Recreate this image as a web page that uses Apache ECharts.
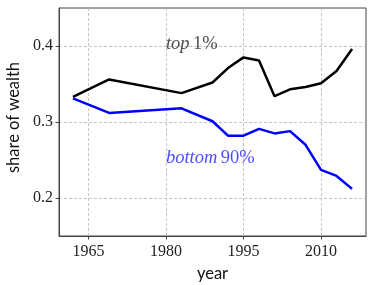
<!DOCTYPE html>
<html>
<head>
<meta charset="utf-8">
<script src="https://cdn.jsdelivr.net/npm/echarts@6/dist/echarts.min.js"></script>
<style>html,body{margin:0;padding:0;background:#fff}#c{width:374px;height:285px}</style>
</head>
<body>
<div id="c"></div>
<script>
const years = [1962, 1969, 1983, 1989, 1992, 1995, 1998, 2001, 2004, 2007, 2010, 2013, 2016];
const top1 = [0.333, 0.356, 0.338, 0.352, 0.371, 0.385, 0.381, 0.334, 0.343, 0.346, 0.351, 0.367, 0.396];
const bottom90 = [0.331, 0.312, 0.318, 0.301, 0.282, 0.282, 0.291, 0.285, 0.288, 0.270, 0.237, 0.229, 0.212];
const xTicks = [1965, 1980, 1995, 2010];
const yTicks = [0.2, 0.3, 0.4];
const labelTop = { x: 1980, y: 0.4, italic: 'top', roman: '1%' };
const labelBottom = { x: 1980, y: 0.25, italic: 'bottom', roman: '90%' };

const chart = echarts.init(document.getElementById('c'), null, { renderer: 'canvas' });
const serif = '"Liberation Serif", "DejaVu Serif", serif';
const frame = '#444';
const gridLine = { show: true, lineStyle: { color: '#b8b8b8', type: [3, 2], width: 0.8 } };

function annot(lbl, color) {
  return {
    type: 'scatter',
    symbolSize: 0,
    silent: true,
    data: [[lbl.x, lbl.y]],
    label: {
      show: true,
      position: 'right',
      distance: 0,
      offset: [0, -2],
      formatter: '{i|' + lbl.italic + '} {r|' + lbl.roman + '}',
      rich: {
        i: { fontFamily: serif, fontStyle: 'italic', fontSize: 18.5, color: color },
        r: { fontFamily: serif, fontSize: 18.5, color: color }
      }
    },
    z: 5
  };
}

chart.setOption({
  animation: false,
  grid: { left: 59, right: 8, top: 8, bottom: 49, show: true, borderColor: frame, borderWidth: 1,
    containLabel: false, outerBoundsMode: 'none' },
  xAxis: {
    type: 'value',
    min: 1959.3,
    max: 2018.7,
    name: 'year',
    nameLocation: 'middle',
    nameGap: 22,
    nameTextStyle: { fontFamily: 'Lato', fontSize: 16.5, color: '#111' },
    axisLine: { show: true, lineStyle: { color: frame, width: 1 } },
    axisTick: { show: true, length: 3.5, customValues: xTicks, lineStyle: { color: frame } },
    axisLabel: { customValues: xTicks, fontFamily: serif, fontSize: 16, color: '#222', margin: 8,
      formatter: v => String(v) },
    splitLine: gridLine
  },
  yAxis: {
    type: 'value',
    min: 0.15,
    max: 0.45,
    name: 'share of wealth',
    nameLocation: 'middle',
    nameGap: 28,
    nameTextStyle: { fontFamily: 'Lato', fontSize: 16.5, color: '#111', padding: [0, 0, 0, 9] },
    axisLine: { show: true, lineStyle: { color: frame, width: 1 } },
    axisTick: { show: true, length: 3.5, customValues: yTicks, lineStyle: { color: frame } },
    axisLabel: { customValues: yTicks, fontFamily: serif, fontSize: 16, color: '#222', margin: 6,
      formatter: v => v.toFixed(1) },
    splitLine: gridLine
  },
  series: [
    {
      type: 'line', name: 'top 1%',
      data: years.map((y, i) => [y, top1[i]]),
      symbol: 'none', lineStyle: { color: '#000', width: 2.5 }, z: 3
    },
    {
      type: 'line', name: 'bottom 90%',
      data: years.map((y, i) => [y, bottom90[i]]),
      symbol: 'none', lineStyle: { color: '#0000ff', width: 2.5 }, z: 3
    },
    annot(labelTop, '#222'),
    annot(labelBottom, '#2020ff')
  ]
});
</script>
</body>
</html>
